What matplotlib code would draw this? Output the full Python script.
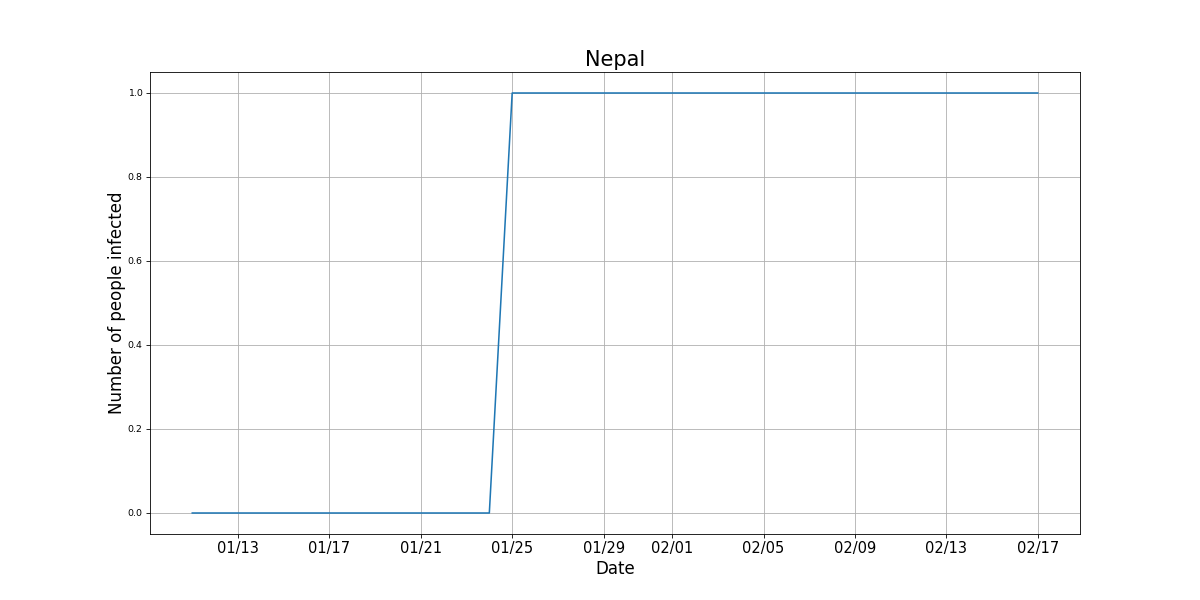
import numpy as np
import pandas as pd
import matplotlib
matplotlib.use('Agg')
import matplotlib.pyplot as plt
import matplotlib.dates as mdates

# casos confirmados por dia
datas = pd.date_range('2020-01-11', '2020-02-17', freq='D')
casos = [0]*14 + [1]*24

fig, ax = plt.subplots(figsize=(16, 8), dpi=75)
ax.plot(datas, casos)

ax.xaxis.set_major_formatter(mdates.DateFormatter('%m/%d'))
ax.set_title('Nepal', fontsize=20)
ax.set_xlabel('Date', fontsize=16)
ax.set_ylabel('Number of people infected', fontsize=16, labelpad=2)
plt.xticks(fontsize=14)
plt.yticks(fontsize=9)
ax.grid(True)

plt.savefig('out.png', dpi=75)
